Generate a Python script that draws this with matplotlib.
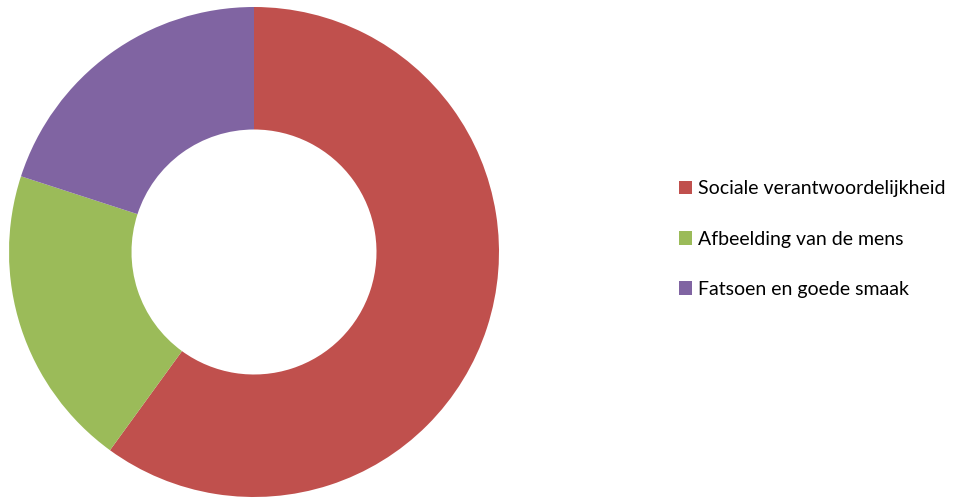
import matplotlib
matplotlib.use("Agg")
import matplotlib.pyplot as plt
from matplotlib.patches import Patch

labels = ['Sociale verantwoordelijkheid', 'Afbeelding van de mens', 'Fatsoen en goede smaak']
values = [60, 20, 20]
colors = ['#C0504D', '#9BBB59', '#8064A2']

plt.rcParams['font.family'] = ['Lato', 'DejaVu Sans']

fig = plt.figure(figsize=(9.62, 5.0), dpi=100)
ax = fig.add_axes([9/962, 3/500, 490/962, 490/500])
ax.pie(values, colors=colors, startangle=90, counterclock=False,
       radius=1.0, wedgeprops=dict(width=0.5, linewidth=0))
ax.set_xlim(-1, 1)
ax.set_ylim(-1, 1)
ax.set_aspect('equal')
ax.axis('off')

handles = [Patch(facecolor=c, edgecolor='none') for c in colors]
fig.legend(handles, labels, loc='center left', bbox_to_anchor=(671/962, 0.522),
           frameon=False, fontsize=14, handlelength=0.7, handleheight=0.7,
           handletextpad=0.3, labelspacing=1.7, borderaxespad=0)

fig.savefig('out.png', dpi=100)
